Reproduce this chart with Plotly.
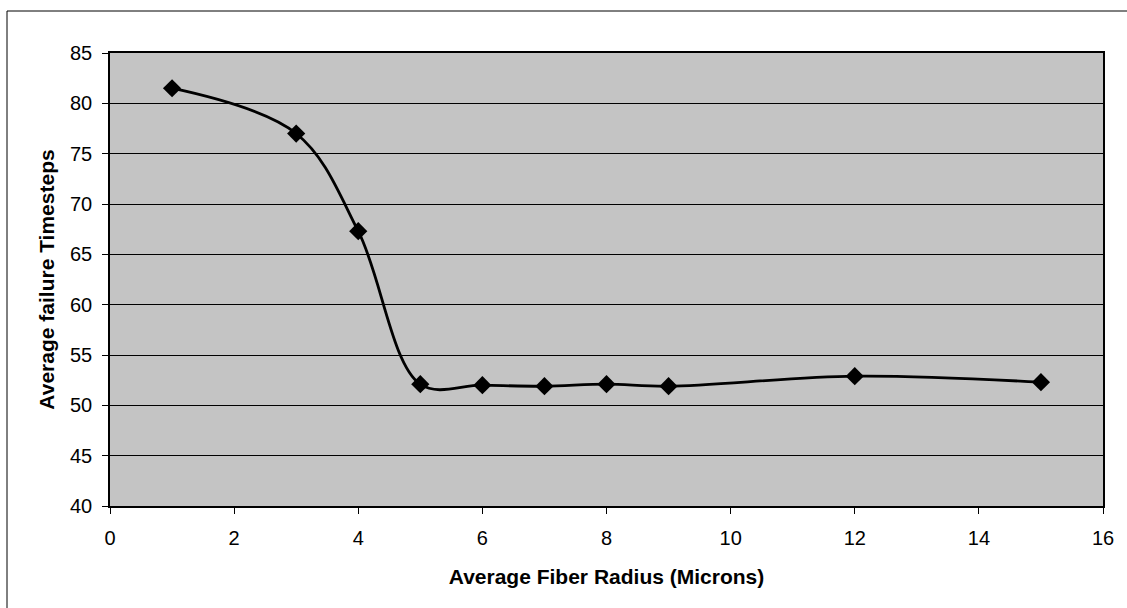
import plotly.graph_objects as go

radius = [1, 3, 4, 5, 6, 7, 8, 9, 12, 15]
timesteps = [81.5, 77.0, 67.3, 52.1, 52.0, 51.9, 52.1, 51.9, 52.9, 52.3]

x_ticks = [0, 2, 4, 6, 8, 10, 12, 14, 16]
y_ticks = [40, 45, 50, 55, 60, 65, 70, 75, 80, 85]

W, H = 1127, 608
L, R, T, B = 110, 1103, 53, 506

fig = go.Figure()
fig.add_trace(go.Scatter(
    x=radius, y=timesteps, mode="lines+markers",
    line=dict(color="black", width=2.8, shape="spline", smoothing=1.0),
    marker=dict(symbol="diamond", size=14, color="black"),
    showlegend=False,
))

font = dict(family="Liberation Sans, Arial, sans-serif", size=20, color="black")

fig.update_layout(
    width=W, height=H,
    margin=dict(l=L, r=W - R, t=T, b=H - B),
    paper_bgcolor="white",
    plot_bgcolor="#c4c4c4",
    font=font,
    xaxis=dict(
        range=[0, 16], tickvals=x_ticks, ticks="outside", ticklen=6,
        tickcolor="black", showline=True, linecolor="black", linewidth=1.5,
        mirror=True, showgrid=False, zeroline=False,
        tickfont=dict(size=20), ticklabelstandoff=7,
        title=dict(text="<b>Average Fiber Radius (Microns)</b>", standoff=22,
                   font=dict(size=21)),
    ),
    yaxis=dict(
        range=[40, 85], tickvals=y_ticks, ticks="outside", ticklen=6,
        tickcolor="black", showline=True, linecolor="black", linewidth=1.5,
        mirror=True, showgrid=True, gridcolor="black", gridwidth=1,
        zeroline=False,
        tickfont=dict(size=20), ticklabelstandoff=6,
        title=dict(text="<b>Average failure Timesteps</b>", standoff=10,
                   font=dict(size=21)),
    ),
)

pw, ph = R - L, B - T
fig.add_shape(type="line", xref="paper", yref="paper",
              x0=(7 - L) / pw, x1=(W - L) / pw,
              y0=(B - 11) / ph, y1=(B - 11) / ph,
              line=dict(color="black", width=1))
fig.add_shape(type="line", xref="paper", yref="paper",
              x0=(7 - L) / pw, x1=(7 - L) / pw,
              y0=(B - 11) / ph, y1=(B - H) / ph,
              line=dict(color="black", width=1))

fig.write_html("out.html")
